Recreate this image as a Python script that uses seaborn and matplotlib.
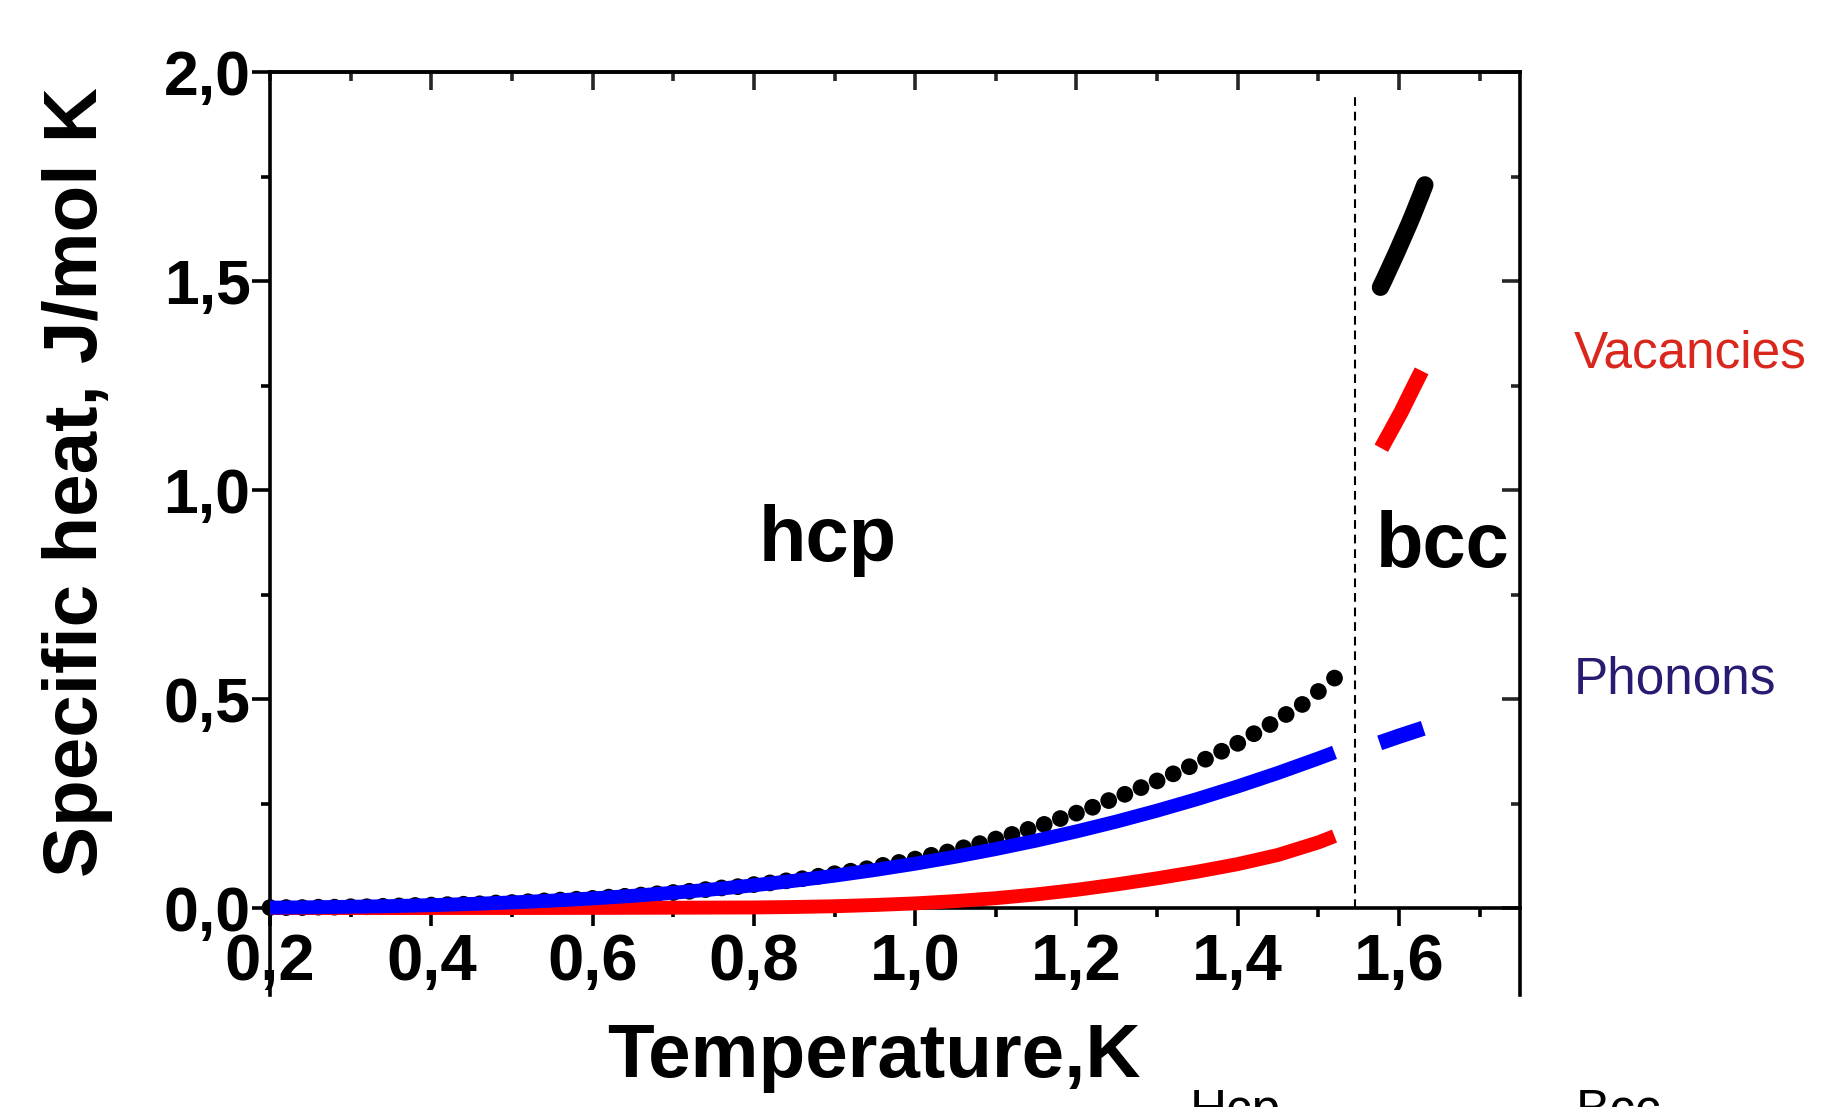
import matplotlib
matplotlib.use("Agg")
import matplotlib.pyplot as plt
import seaborn as sns
import numpy as np
import pandas as pd

# ---------------- data ----------------
# hcp, total specific heat (black dots), T step 0.02 K
hcp_total_T = [round(0.20 + 0.02 * i, 2) for i in range(67)]
hcp_total_C = [0.001, 0.001, 0.001, 0.002, 0.002, 0.003, 0.003, 0.004, 0.005, 0.006,
               0.007, 0.008, 0.009, 0.010, 0.012, 0.013, 0.015, 0.017, 0.019, 0.021,
               0.023, 0.026, 0.028, 0.031, 0.034, 0.037, 0.040, 0.044, 0.048, 0.051,
               0.056, 0.060, 0.065, 0.070, 0.076, 0.082, 0.088, 0.094, 0.102, 0.109,
               0.117, 0.126, 0.134, 0.144, 0.154, 0.165, 0.176, 0.188, 0.200, 0.214,
               0.227, 0.241, 0.257, 0.272, 0.288, 0.304, 0.321, 0.338, 0.356, 0.375,
               0.394, 0.417, 0.439, 0.463, 0.487, 0.518, 0.550]
# hcp, phonon and vacancy contributions (solid lines)
hcp_line_T = [0.20, 0.25, 0.30, 0.35, 0.40, 0.45, 0.50, 0.55, 0.60, 0.65, 0.70, 0.75,
              0.80, 0.85, 0.90, 0.95, 1.00, 1.05, 1.10, 1.15, 1.20, 1.25, 1.30, 1.35,
              1.40, 1.45, 1.50, 1.52]
hcp_phonon_C = [0.0008, 0.0017, 0.0029, 0.0045, 0.0068, 0.0097, 0.0133, 0.0176, 0.0229,
                0.0291, 0.0364, 0.0447, 0.0543, 0.0651, 0.0773, 0.0909, 0.1060, 0.1227,
                0.1411, 0.1612, 0.1832, 0.2070, 0.2329, 0.2608, 0.2909, 0.3232, 0.3578,
                0.3723]
hcp_vacancy_C = [0.0, 0.0, 0.0, 0.0, 0.0, 0.0, 0.0, 0.0001, 0.0003, 0.0005, 0.0007,
                 0.0010, 0.0013, 0.0024, 0.0042, 0.0072, 0.0110, 0.0165, 0.0235, 0.0325,
                 0.0435, 0.0565, 0.0710, 0.0870, 0.1050, 0.1270, 0.1570, 0.1720]
# bcc
bcc_total_T = [1.577, 1.582, 1.587, 1.592, 1.597, 1.602, 1.607, 1.612, 1.617, 1.622,
               1.627, 1.632]
bcc_total_C = [1.485, 1.505, 1.526, 1.547, 1.568, 1.590, 1.612, 1.634, 1.657, 1.681,
               1.705, 1.730]
bcc_vacancy_T = [1.578, 1.590, 1.603, 1.615, 1.628]
bcc_vacancy_C = [1.100, 1.142, 1.188, 1.235, 1.285]
bcc_phonon_T = [1.576, 1.600, 1.630]
bcc_phonon_C = [0.395, 0.411, 0.430]

transition_T = 1.545

x_ticks = [0.2, 0.4, 0.6, 0.8, 1.0, 1.2, 1.4, 1.6]
x_ticklabels = ["0,2", "0,4", "0,6", "0,8", "1,0", "1,2", "1,4", "1,6"]
y_ticks = [0.0, 0.5, 1.0, 1.5, 2.0]
y_ticklabels = ["0,0", "0,5", "1,0", "1,5", "2,0"]

# ---------------- style ----------------
sns.set_theme(style="white")
plt.rcParams["font.family"] = ["Liberation Sans", "DejaVu Sans"]
SW = 2.6
plt.rcParams["axes.linewidth"] = SW

W, H = 1821, 1107
fig = plt.figure(figsize=(W / 100, H / 100), dpi=100)
fig.patch.set_facecolor("white")
L, R, T, B = 270, 1520, 72, 908
ax = fig.add_axes([L / W, 1 - B / H, (R - L) / W, (B - T) / H])
ax.set_facecolor("white")

dot_s = 145
sns.scatterplot(x=hcp_total_T, y=hcp_total_C, ax=ax, color="black", s=dot_s,
                linewidth=0, edgecolor="none", zorder=2, clip_on=False)
sns.lineplot(x=bcc_total_T, y=bcc_total_C, ax=ax, color="black", linewidth=12.5,
             sort=False, estimator=None, zorder=2)
ax.lines[-1].set_solid_capstyle("round")

for xs, ys, col, z, lw in [(hcp_line_T, hcp_vacancy_C, "#ff0000", 3, 10),
                           (hcp_line_T, hcp_phonon_C, "#0000ff", 4, 10),
                           (bcc_vacancy_T, bcc_vacancy_C, "#ff0000", 3, 11),
                           (bcc_phonon_T, bcc_phonon_C, "#0000ff", 4, 11)]:
    df = pd.DataFrame({"T": xs, "C": ys})
    sns.lineplot(data=df, x="T", y="C", ax=ax, color=col, linewidth=lw,
                 sort=False, estimator=None, zorder=z)
    ax.lines[-1].set_solid_capstyle("butt")
    ax.lines[-1].set_solid_joinstyle("round")
for ln in ax.lines:
    ln.set_clip_on(False)

ax.axvline(transition_T, ymin=0, ymax=0.975, color="black", lw=1.5,
           dashes=(4.2, 2.8), zorder=1)

ax.set_xlim(0.2, 1.75)
ax.set_ylim(0.0, 2.0)
ax.set_xlabel("")
ax.set_ylabel("")

# bottom / left ticks (outward)
ax.set_xticks(x_ticks, x_ticklabels, fontsize=47, fontweight="bold")
ax.set_yticks(y_ticks, y_ticklabels, fontsize=45, fontweight="bold")
ax.xaxis.set_minor_locator(matplotlib.ticker.MultipleLocator(0.1))
ax.yaxis.set_minor_locator(matplotlib.ticker.MultipleLocator(0.25))
ax.tick_params(axis="both", which="major", direction="out", length=13, width=SW,
               color="black", labelcolor="black")
ax.tick_params(axis="both", which="minor", direction="out", length=6.5, width=SW,
               color="black")
ax.tick_params(axis="x", which="major", pad=5)
ax.tick_params(axis="y", which="major", pad=1)
ax.tick_params(top=False, right=False, which="both")
ax.xaxis.set_ticks_position("bottom")
ax.yaxis.set_ticks_position("left")

for side in ["left", "right", "top", "bottom"]:
    ax.spines[side].set_visible(True)
    ax.spines[side].set_color("black")
    ax.spines[side].set_linewidth(SW)
ext = (995 - B) / ((B - T) / 2.0)
ax.spines["left"].set_bounds(-ext, 2.0)
ax.spines["right"].set_bounds(-ext, 2.0)

# top / right ticks (inward)
secx = ax.secondary_xaxis("top")
secx.set_xticks(x_ticks[1:])
secx.xaxis.set_minor_locator(matplotlib.ticker.MultipleLocator(0.1))
secx.tick_params(which="major", direction="in", length=13, width=SW, labeltop=False)
secx.tick_params(which="minor", direction="in", length=6.5, width=SW)
secx.spines["top"].set_linewidth(SW)
secy = ax.secondary_yaxis("right")
secy.set_yticks(y_ticks)
secy.yaxis.set_minor_locator(matplotlib.ticker.MultipleLocator(0.25))
secy.tick_params(which="major", direction="in", length=13, width=SW, labelright=False)
secy.tick_params(which="minor", direction="in", length=6.5, width=SW)
secy.spines["right"].set_visible(False)

# labels
fig.text(874 / W, 1 - 1077 / H, "Temperature,K", fontsize=55, fontweight="bold",
         ha="center", va="baseline", color="black")
fig.text(78 / W, 1 - 482 / H, "Specific heat, J/mol K", fontsize=55, fontweight="bold",
         rotation=90, ha="center", va="center", color="black")

fig.text(828 / W, 1 - 561 / H, "hcp", fontsize=56, fontweight="bold",
         ha="center", va="baseline", color="black")
fig.text(1443 / W, 1 - 567 / H, "bcc", fontsize=56, fontweight="bold",
         ha="center", va="baseline", color="black")
fig.text(1574 / W, 1 - 367 / H, "Vacancies", fontsize=37, color="#d9271d",
         ha="left", va="baseline")
fig.text(1574 / W, 1 - 693 / H, "Phonons", fontsize=37, color="#2a1a72",
         ha="left", va="baseline")
fig.text(1190 / W, 1 - 1126 / H, "Hcp", fontsize=37, color="black",
         ha="left", va="baseline")
fig.text(1576 / W, 1 - 1126 / H, "Bcc", fontsize=37, color="black",
         ha="left", va="baseline")

fig.savefig("out.png", dpi=100, facecolor="white")
